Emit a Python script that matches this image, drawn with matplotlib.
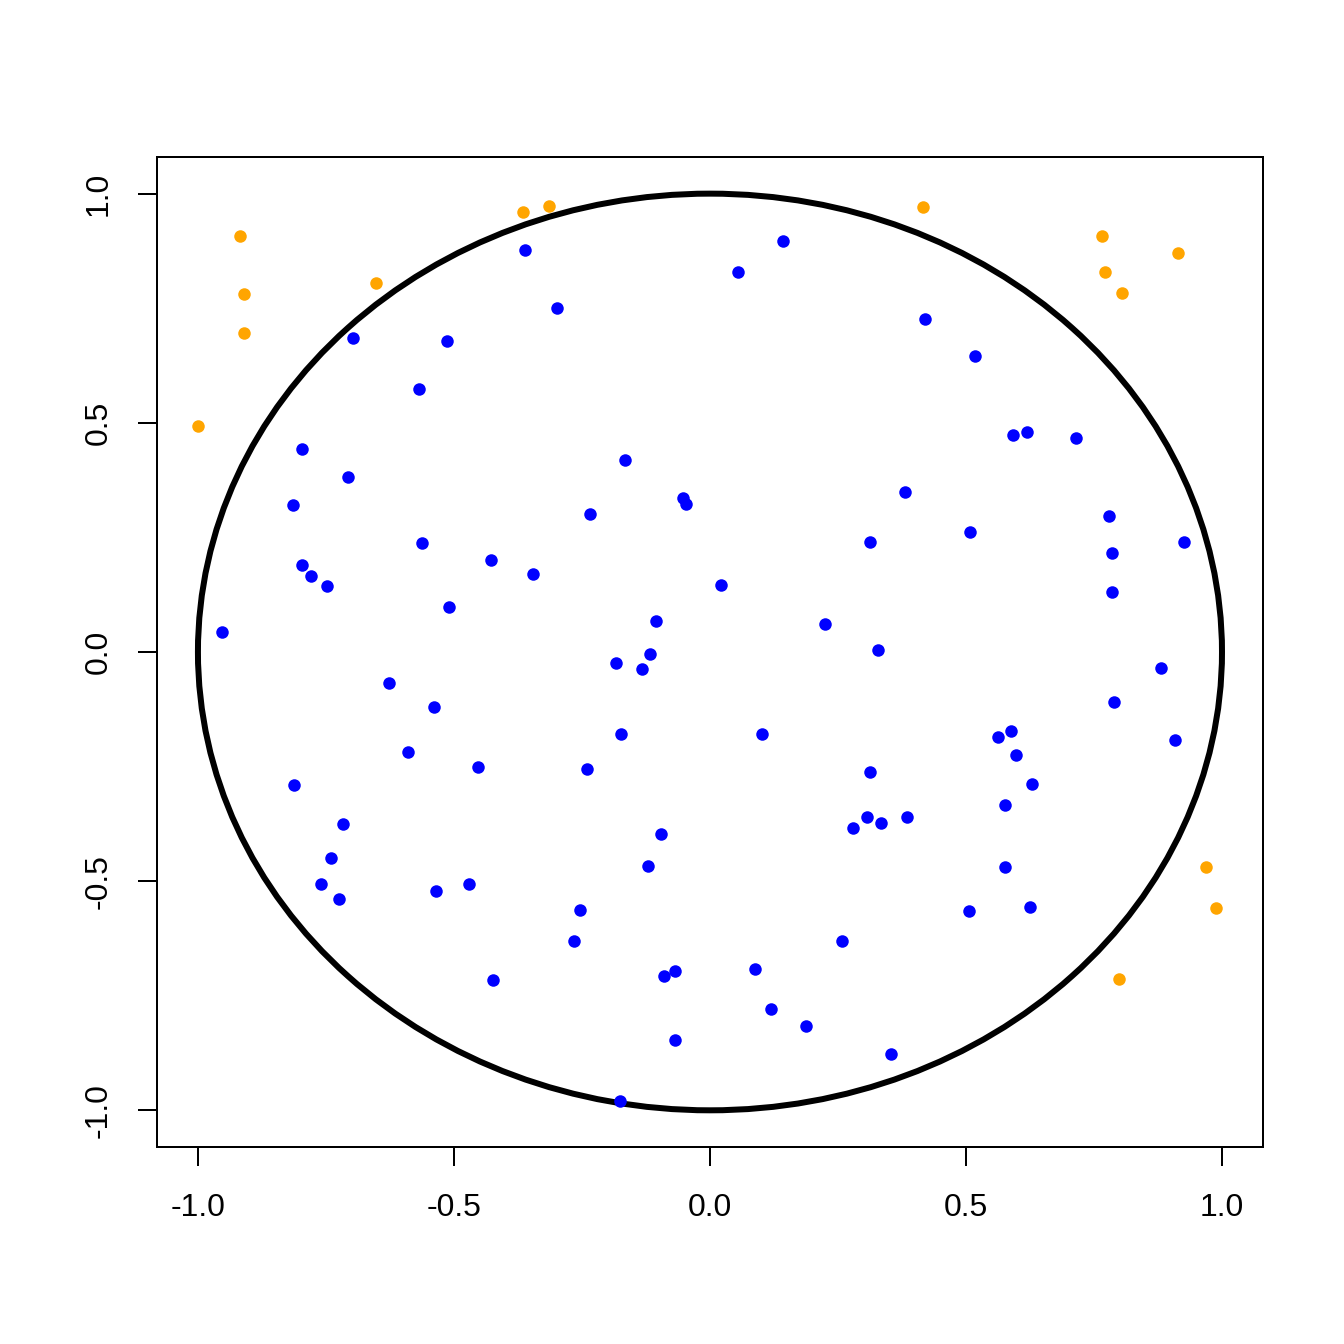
import matplotlib
matplotlib.use("Agg")
import matplotlib.pyplot as plt
from matplotlib.patches import Circle

plt.rcParams['font.family'] = ['Liberation Sans', 'DejaVu Sans']

# points inside the unit circle
x_in = [-0.361, -0.298, 0.143, 0.054, 0.419, 0.517, -0.697, -0.513, -0.568, -0.797,
        -0.707, -0.814, -0.562, -0.797, -0.779, -0.748, -0.953, -0.509, -0.427, -0.345,
        -0.234, -0.165, -0.052, -0.046, 0.022, -0.105, -0.118, -0.132, -0.183, -0.627,
        -0.539, -0.589, -0.453, -0.241, -0.173, 0.101, 0.224, 0.329, 0.312, 0.380,
        0.507, 0.591, 0.619, 0.715, 0.779, 0.785, 0.785, 0.926, 0.881, 0.789,
        0.908, 0.562, 0.587, 0.597, 0.629, 0.576, 0.576, 0.625, 0.505, 0.312,
        0.306, 0.280, 0.335, 0.384, 0.257, 0.087, 0.120, 0.187, 0.353, -0.069,
        -0.068, -0.089, -0.095, -0.122, -0.253, -0.265, -0.423, -0.470, -0.535, -0.717,
        -0.740, -0.760, -0.724, -0.812, -0.175]
y_in = [0.876, 0.750, 0.896, 0.830, 0.727, 0.645, 0.686, 0.679, 0.573, 0.442,
        0.381, 0.320, 0.237, 0.189, 0.165, 0.145, 0.043, 0.099, 0.200, 0.171,
        0.300, 0.418, 0.337, 0.322, 0.147, 0.067, -0.005, -0.038, -0.023, -0.067,
        -0.121, -0.219, -0.250, -0.256, -0.180, -0.178, 0.060, 0.005, 0.241, 0.348,
        0.261, 0.474, 0.481, 0.466, 0.296, 0.217, 0.130, 0.239, -0.034, -0.110,
        -0.191, -0.186, -0.173, -0.224, -0.289, -0.333, -0.470, -0.557, -0.566, -0.261,
        -0.359, -0.385, -0.374, -0.361, -0.631, -0.692, -0.778, -0.817, -0.878, -0.847,
        -0.695, -0.706, -0.398, -0.468, -0.564, -0.631, -0.716, -0.507, -0.522, -0.376,
        -0.450, -0.507, -0.538, -0.291, -0.980]

# points outside the unit circle
x_out = [-0.918, -0.910, -0.910, -1.000, -0.652, -0.365, -0.314, 0.416, 0.765, 0.771,
         0.804, 0.914, 0.969, 0.988, 0.799]
y_out = [0.908, 0.780, 0.695, 0.494, 0.804, 0.961, 0.972, 0.970, 0.908, 0.828,
         0.784, 0.871, -0.470, -0.559, -0.714]

ticks = [-1.0, -0.5, 0.0, 0.5, 1.0]
tick_labels = ['-1.0', '-0.5', '0.0', '0.5', '1.0']

fig = plt.figure(figsize=(7, 7), dpi=192)
ax = fig.add_axes([0.1168, 0.1466, 0.8229, 0.7366])

ax.scatter(x_in, y_in, s=22, color='#0000FF', linewidths=0, zorder=3)
ax.scatter(x_out, y_out, s=22, color='#FFA500', linewidths=0, zorder=3)
ax.add_patch(Circle((0, 0), 1, fill=False, edgecolor='black', linewidth=2.25, zorder=2))

ax.set_xlim(-1.08, 1.08)
ax.set_ylim(-1.08, 1.08)
ax.set_xticks(ticks)
ax.set_xticklabels(tick_labels)
ax.set_yticks(ticks)
ax.set_yticklabels(tick_labels, rotation=90, va='center')
ax.tick_params(length=7.2, width=0.75, labelsize=12, direction='out')
ax.tick_params(axis='x', pad=10)
ax.tick_params(axis='y', pad=9)
for sp in ax.spines.values():
    sp.set_linewidth(0.75)

fig.savefig('out.png', dpi=192)
